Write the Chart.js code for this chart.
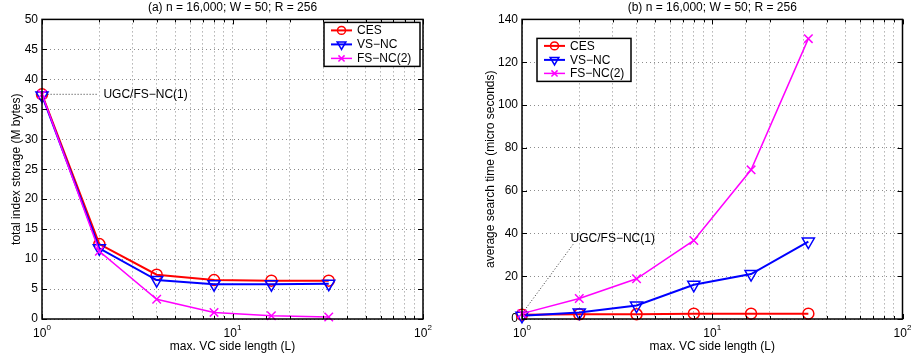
<!DOCTYPE html>
<html>
<head>
<meta charset="utf-8">
<script src="https://cdn.jsdelivr.net/npm/chart.js@4.4.0/dist/chart.umd.min.js"></script>
<style>
  body { margin: 0; background: #fff; }
  #wrap { position: relative; width: 911px; height: 360px; }
  #wrap canvas { position: absolute; top: 0; }
</style>
</head>
<body>
<div id="wrap">
  <canvas id="storage" width="455" height="360" style="left:0"></canvas>
  <canvas id="search" width="456" height="360" style="left:455px"></canvas>
</div>
<script>
// values
const sideLength = [1, 2, 4, 8, 16, 32];
const seriesNames = ['CES', 'VS\u2212NC', 'FS\u2212NC(2)'];

const storageCES  = [37.5, 12.5, 7.4, 6.5, 6.4, 6.4];
const storageVSNC = [37.3, 11.8, 6.5, 5.8, 5.8, 5.9];
const storageFSNC = [37.5, 11.3, 3.3, 1.1, 0.55, 0.33];

const searchCES  = [2.0, 2.2, 2.2, 2.5, 2.5, 2.5];
const searchVSNC = [1.5, 3.0, 6.3, 16.0, 21.0, 36.2];
const searchFSNC = [2.5, 9.6, 18.8, 36.7, 69.7, 131.0];

const storageYTicks = [0, 5, 10, 15, 20, 25, 30, 35, 40, 45, 50];
const searchYTicks = [0, 20, 40, 60, 80, 100, 120, 140];
const xTickValues = [1, 10, 100];
const xTickBase = '10';
const xTickExps = ['0', '1', '2'];

const noteText = 'UGC/FS\u2212NC(1)';

const FONT = "'Liberation Sans', Arial, Helvetica, sans-serif";

const seriesStyle = [
  { color: '#ff0000', pointStyle: 'circle',   rotation: 0,   radius: 5.5, lineWidth: 2 },
  { color: '#0000ff', pointStyle: 'triangle', rotation: 180, radius: 7,   lineWidth: 2 },
  { color: '#ff00ff', pointStyle: 'crossRot', rotation: 0,   radius: 6,   lineWidth: 1.5 }
];

function makeDatasets(seriesList) {
  return seriesList.map((vals, i) => {
    const s = seriesStyle[i];
    return {
      label: seriesNames[i],
      data: sideLength.map((x, k) => ({ x: x, y: vals[k] })),
      borderColor: s.color,
      backgroundColor: 'rgba(0,0,0,0)',
      borderWidth: s.lineWidth,
      pointStyle: s.pointStyle,
      pointRotation: s.rotation,
      pointRadius: s.radius,
      pointBorderWidth: 1.5,
      pointBorderColor: s.color,
      pointBackgroundColor: 'rgba(0,0,0,0)',
      tension: 0,
      clip: false,
      order: 3 - i
    };
  });
}

// box, inward ticks, 10^n labels, note and in-plot legend
const axesBox = {
  id: 'axesBox',
  afterDatasetsDraw(chart, args, opts) {
    const { ctx, chartArea: a } = chart;
    const xs = chart.scales.x, ys = chart.scales.y;
    ctx.save();

    // tick marks pointing in
    ctx.strokeStyle = '#000';
    ctx.lineWidth = 1;
    ctx.beginPath();
    ys.ticks.forEach(t => {
      const py = Math.round(ys.getPixelForValue(t.value)) + 0.5;
      ctx.moveTo(a.left, py); ctx.lineTo(a.left + 5, py);
      ctx.moveTo(a.right, py); ctx.lineTo(a.right - 5, py);
    });
    xs.ticks.forEach(t => {
      const px = Math.round(xs.getPixelForValue(t.value)) + 0.5;
      const len = xTickValues.includes(t.value) ? 5 : 3;
      ctx.moveTo(px, a.bottom); ctx.lineTo(px, a.bottom - len);
      ctx.moveTo(px, a.top); ctx.lineTo(px, a.top + len);
    });
    ctx.stroke();

    ctx.lineWidth = 1.5;
    ctx.strokeRect(a.left, a.top, a.right - a.left, a.bottom - a.top);

    // x tick labels 10^n
    ctx.fillStyle = '#000';
    ctx.textBaseline = 'alphabetic';
    xTickValues.forEach((v, i) => {
      const px = xs.getPixelForValue(v);
      ctx.font = '12px ' + FONT;
      const wb = ctx.measureText(xTickBase).width;
      ctx.font = '8px ' + FONT;
      const we = ctx.measureText(xTickExps[i]).width;
      const x0 = px - (wb + we) / 2;
      ctx.font = '12px ' + FONT;
      ctx.textAlign = 'left';
      ctx.fillText(xTickBase, x0, a.bottom + 18);
      ctx.font = '8px ' + FONT;
      ctx.fillText(xTickExps[i], x0 + wb, a.bottom + 11);
    });

    // annotation
    const n = opts.note;
    ctx.strokeStyle = '#333';
    ctx.lineWidth = 1;
    ctx.setLineDash([1, 2]);
    ctx.beginPath();
    ctx.moveTo(xs.getPixelForValue(n.from[0]), ys.getPixelForValue(n.from[1]));
    ctx.lineTo(xs.getPixelForValue(n.to[0]), ys.getPixelForValue(n.to[1]));
    ctx.stroke();
    ctx.setLineDash([]);
    ctx.font = '12px ' + FONT;
    ctx.textAlign = 'left';
    ctx.textBaseline = n.baseline;
    ctx.fillText(noteText, xs.getPixelForValue(n.at[0]), ys.getPixelForValue(n.at[1]));

    // legend
    const L = opts.legend;
    const bx = L.side === 'right' ? a.right - L.dx - L.w : a.left + L.dx;
    const by = a.top + L.dy;
    ctx.fillStyle = '#fff';
    ctx.fillRect(bx, by, L.w, L.h);
    ctx.strokeStyle = '#000';
    ctx.lineWidth = 1.5;
    ctx.strokeRect(bx, by, L.w, L.h);
    chart.data.datasets.forEach((ds, i) => {
      const s = seriesStyle[i];
      const ry = by + L.rows[i];
      ctx.strokeStyle = s.color;
      ctx.lineWidth = s.lineWidth;
      ctx.beginPath();
      ctx.moveTo(bx + 7, ry); ctx.lineTo(bx + 28, ry);
      ctx.stroke();
      ctx.fillStyle = 'rgba(0,0,0,0)';
      ctx.lineWidth = 1.5;
      Chart.helpers.drawPoint(ctx, {
        pointStyle: s.pointStyle, rotation: s.rotation,
        radius: s.radius * 0.72, borderWidth: 1.5
      }, bx + 17.5, ry);
      ctx.fillStyle = '#000';
      ctx.font = '12px ' + FONT;
      ctx.textAlign = 'left';
      ctx.textBaseline = 'middle';
      ctx.fillText(ds.label, bx + 33, ry + 0.5);
    });

    ctx.restore();
  }
};

function buildChart(id, seriesList, cfg) {
  const gridOpts = { color: '#8c8c8c', lineWidth: 1, drawTicks: false };
  const borderOpts = { display: false, dash: [1, 3] };
  return new Chart(document.getElementById(id), {
    type: 'line',
    data: { datasets: makeDatasets(seriesList) },
    options: {
      responsive: false,
      animation: false,
      devicePixelRatio: 1,
      layout: { padding: { top: 0, left: 0, bottom: 0, right: cfg.padRight } },
      plugins: {
        legend: { display: false },
        tooltip: { enabled: false },
        title: {
          display: true, text: cfg.title, color: '#000', fullSize: false,
          font: { family: FONT, size: 12, weight: 'normal' },
          padding: { top: 0, bottom: 5 }
        },
        axesBox: { legend: cfg.legend, note: cfg.note }
      },
      scales: {
        x: {
          type: 'logarithmic', min: 1, max: 100,
          ticks: { display: false },
          grid: gridOpts, border: borderOpts,
          title: {
            display: true, text: 'max. VC side length (L)', color: '#000',
            font: { family: FONT, size: 12 }, padding: { top: 0, bottom: 6 }
          },
          afterFit: s => { s.height = 41; }
        },
        y: {
          type: 'linear', min: 0, max: cfg.yTicks[cfg.yTicks.length - 1],
          afterBuildTicks: s => { s.ticks = cfg.yTicks.map(v => ({ value: v })); },
          ticks: { color: '#000', padding: 4, font: { family: FONT, size: 12 } },
          grid: gridOpts, border: borderOpts,
          title: {
            display: true, text: cfg.yTitle, color: '#000',
            font: { family: FONT, size: 12 }, padding: { top: cfg.yTitlePad, bottom: 0 }
          },
          afterFit: s => { s.width = cfg.yWidth; }
        }
      }
    },
    plugins: [axesBox]
  });
}

buildChart('storage', [storageCES, storageVSNC, storageFSNC], {
  title: '(a) n = 16,000; W = 50; R = 256',
  yTitle: 'total index storage (M bytes)',
  yTicks: storageYTicks,
  yWidth: 42, yTitlePad: 9, padRight: 32,
  legend: { side: 'right', dx: 3, dy: 3, w: 96, h: 44, rows: [8, 22, 36] },
  note: { from: [1.07, 37.5], to: [1.94, 37.5], at: [2.1, 37.5], baseline: 'middle' }
});

buildChart('search', [searchCES, searchVSNC, searchFSNC], {
  title: '(b) n = 16,000; W = 50; R = 256',
  yTitle: 'average search time (micro seconds)',
  yTicks: searchYTicks,
  yWidth: 67, yTitlePad: 28, padRight: 8,
  legend: { side: 'left', dx: 15, dy: 19, w: 94, h: 43, rows: [7.5, 21.5, 35] },
  note: { from: [1.03, 4], to: [1.86, 35], at: [1.8, 36.2], baseline: 'alphabetic' }
});
</script>
</body>
</html>
